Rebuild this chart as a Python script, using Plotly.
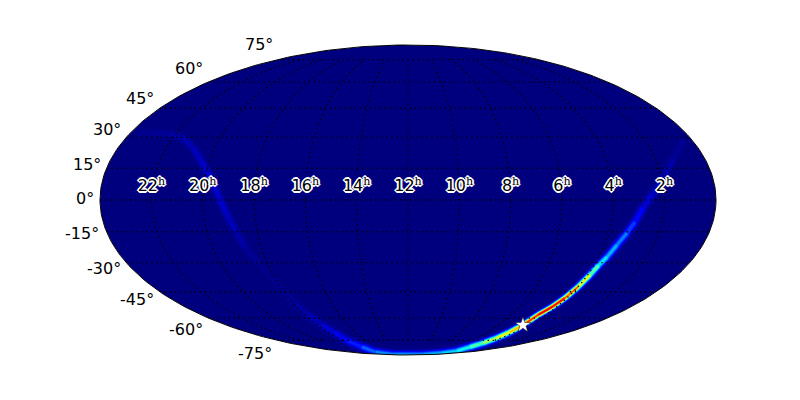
import math
import plotly.graph_objects as go

# sky position (lon = (12h - RA) in degrees, lat = Dec) and probability
arc_lon = [174.3, 160.3, 149.7, 142.7, 137.5, 134.0, 131.0, 127.6, 125.1, 122.8, 121.5, 120.0, 118.4, 116.3, 113.3, 113.7, 113.7, 114.2, 113.6, 114.3, 126.9, 127.8, 137.8, -129.7, -98.4, -84.8, -84.4, -83.1, -85.0, -87.2, -88.2, -89.9, -92.0, -96.3, -100.0, -103.1, -106.7, -111.1, -117.0, -124.2, -133.4, -143.5, -153.7, -165.3, -175.6]
arc_lat = [28.7, 19.0, 9.4, 2.4, -3.8, -10.4, -15.6, -21.4, -27.2, -31.4, -36.2, -42.5, -48.4, -53.4, -58.0, -64.3, -68.9, -73.2, -77.0, -80.4, -84.3, -86.8, -89.1, -89.1, -85.6, -80.4, -75.4, -69.6, -64.3, -58.0, -52.3, -47.8, -37.8, -29.7, -22.3, -14.2, -6.1, 2.4, 10.9, 18.0, 24.8, 29.7, 31.7, 32.2, 32.2]
arc_val = [0.02, 0.035, 0.06, 0.08, 0.12, 0.18, 0.25, 0.30, 0.36, 0.44, 0.58, 0.76, 0.90, 0.95, 0.95, 0.80, 0.70, 0.62, 0.55, 0.45, 0.38, 0.33, 0.32, 0.30, 0.28, 0.20, 0.15, 0.11, 0.08, 0.05, 0.035, 0.025, 0.01, 0.02, 0.035, 0.06, 0.08, 0.09, 0.095, 0.085, 0.065, 0.05, 0.035, 0.025, 0.015]

star_lon = [113.7]
star_lat = [-64.3]

ra_hours = [22, 20, 18, 16, 14, 12, 10, 8, 6, 4, 2]
ra_label_lat = [2.2] * len(ra_hours)
dec_ticks = [75, 60, 45, 30, 15, 0, -15, -30, -45, -60, -75]
dec_tick_px = [(259, 44), (189, 69), (140, 98), (107, 130), (87, 164), (85, 199), (82, 233), (104, 268), (137, 299), (186, 329), (255, 353)]

BG = "#00007f"
R2 = math.sqrt(2)
X_MAX = 2 * R2
# the page puts an 8 px margin round the figure
PAGE_PAD = 8
FIG_W, FIG_H = 784, 384
CX, CY, AX, AY = 408 - PAGE_PAD, 200 - PAGE_PAD, 308, 155
X_RANGE = [-CX / AX * X_MAX, (FIG_W - CX) / AX * X_MAX]
Y_RANGE = [-(FIG_H - CY) / AY * R2, CY / AY * R2]


def moll(lon, lat):
    phi = math.radians(lat)
    if abs(lat) >= 90:
        th = math.copysign(math.pi / 2, lat)
    else:
        th = phi
        for _ in range(100):
            f = 2 * th + math.sin(2 * th) - math.pi * math.sin(phi)
            d = 2 + 2 * math.cos(2 * th)
            if abs(d) < 1e-9:
                break
            th -= f / d
    return (2 * R2 / math.pi * math.radians(lon) * math.cos(th), R2 * math.sin(th))


def project(lons, lats):
    pts = [moll(a, b) for a, b in zip(lons, lats)]
    return [p[0] for p in pts], [p[1] for p in pts]


def jet(v):
    v = max(0.0, min(1.0, v))
    def ch(c):
        return max(0.0, min(1.0, 1.5 - abs(4 * v - c)))
    return "rgb(%d,%d,%d)" % (255 * ch(3), 255 * ch(2), 255 * ch(1))


LEVELS = [0.005, 0.01, 0.015, 0.02, 0.03, 0.04, 0.05, 0.065, 0.08, 0.1, 0.125, 0.15, 0.18, 0.22, 0.26,
          0.3, 0.35, 0.4, 0.45, 0.5, 0.55, 0.6, 0.65, 0.7, 0.75, 0.8, 0.85, 0.9]


def band_width(level, peak):
    sigma = 1.7 + 1.0 * (1 - peak / 0.95)
    return 2 * sigma * math.sqrt(2 * math.log(peak / level))


fig = go.Figure()

angles = [2 * math.pi * i / 360 for i in range(361)]
ell_x = [X_MAX * math.cos(t) for t in angles]
ell_y = [R2 * math.sin(t) for t in angles]

fig.add_trace(go.Scatter(x=ell_x, y=ell_y, mode="lines", fill="toself", fillcolor=BG,
                         line=dict(width=0), hoverinfo="skip"))

arc_x, arc_y = project(arc_lon, arc_lat)
for level in LEVELS:
    for i in range(len(arc_val) - 1):
        peak = (arc_val[i] + arc_val[i + 1]) / 2
        if peak <= level:
            continue
        fig.add_trace(go.Scatter(
            x=arc_x[i:i + 2], y=arc_y[i:i + 2], mode="lines",
            line=dict(color=jet(level), width=max(0.4, band_width(level, peak))),
            hoverinfo="skip"))

grid_line = dict(color="black", width=1.3, dash="1.3px,3.7px")
for lat in range(-75, 76, 15):
    lons = list(range(-180, 181, 10))
    gx, gy = project(lons, [lat] * len(lons))
    fig.add_trace(go.Scatter(x=gx, y=gy, mode="lines", line=grid_line, hoverinfo="skip"))
for lon in range(-150, 151, 30):
    lats = list(range(-75, 76, 5))
    gx, gy = project([lon] * len(lats), lats)
    fig.add_trace(go.Scatter(x=gx, y=gy, mode="lines", line=grid_line, hoverinfo="skip"))

# white surround so nothing spills over the frame (rectangle wound against the ellipse)
mask_x = [X_RANGE[0], X_RANGE[0], X_RANGE[1], X_RANGE[1], X_RANGE[0], None] + ell_x
mask_y = [Y_RANGE[0], Y_RANGE[1], Y_RANGE[1], Y_RANGE[0], Y_RANGE[0], None] + ell_y
fig.add_trace(go.Scatter(x=mask_x, y=mask_y, mode="lines", fill="toself", fillcolor="white",
                         line=dict(width=0), hoverinfo="skip"))
fig.add_trace(go.Scatter(x=ell_x, y=ell_y, mode="lines", line=dict(color="black", width=1),
                         hoverinfo="skip"))

halo = ", ".join("%dpx %dpx 0.6px white" % (a, b) for a, b in
                 [(1, 0), (-1, 0), (0, 1), (0, -1), (1, 1), (-1, -1), (1, -1), (-1, 1), (2, 0), (-2, 0), (0, 2), (0, -2)])
rx, ry = project([(12 - h) * 15 for h in ra_hours], ra_label_lat)
fig.add_trace(go.Scatter(
    x=rx, y=ry, mode="text",
    text=["%d<sup><span style=\"font-family:'DejaVu Serif'\">h</span></sup>" % h for h in ra_hours],
    textposition="top center",
    textfont=dict(family="DejaVu Sans", size=16, color="black", shadow=halo),
    hoverinfo="skip"))

sx, sy = project(star_lon, star_lat)
fig.add_trace(go.Scatter(
    x=sx, y=sy, mode="markers",
    marker=dict(symbol="star", size=12, color="white", line=dict(color="black", width=0.5)),
    hoverinfo="skip"))

for d, (px, py) in zip(dec_ticks, dec_tick_px):
    fig.add_annotation(x=(px - PAGE_PAD) / FIG_W, y=1 - (py - PAGE_PAD) / FIG_H, xref="paper", yref="paper",
                       text="%d°" % d, showarrow=False, xanchor="center", yanchor="middle",
                       font=dict(family="DejaVu Sans", size=16, color="black"))

fig.update_xaxes(visible=False, range=X_RANGE)
fig.update_yaxes(visible=False, range=Y_RANGE)
fig.update_layout(
    width=FIG_W, height=FIG_H, paper_bgcolor="white", plot_bgcolor="white", showlegend=False,
    margin=dict(l=0, r=0, t=0, b=0),
    font=dict(family="DejaVu Sans"),
)
fig.write_html("out.html")
